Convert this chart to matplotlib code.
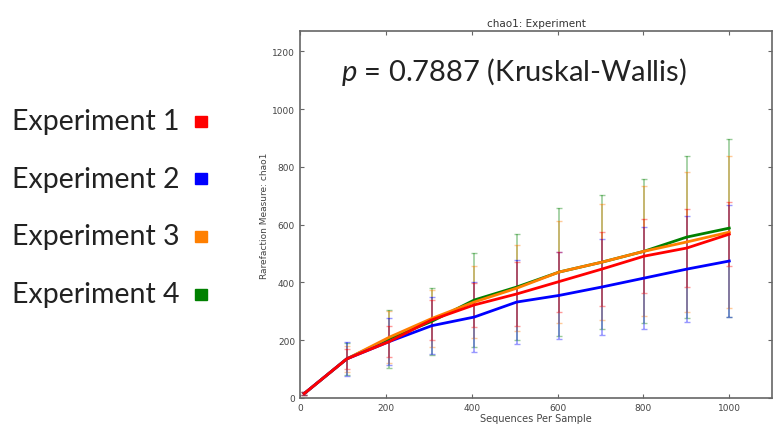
"""
plot.py — chao1 rarefaction curves per experiment with Kruskal-Wallis p-value.
"""

import matplotlib
matplotlib.use("Agg")
import matplotlib.pyplot as plt
import numpy as np

plt.rcParams["mathtext.fontset"] = "custom"
plt.rcParams["mathtext.it"] = "Lato:italic"
plt.rcParams["mathtext.rm"] = "Lato"

# rarefaction depths
depths = [10, 109, 208, 307, 406, 505, 604, 703, 802, 901, 1000]

# mean chao1 per experiment
exp1_mean = [15, 135, 195, 270, 322, 360, 403, 446, 491, 519, 567]
exp2_mean = [15, 135, 195, 250, 280, 332, 355, 384, 415, 446, 474]
exp3_mean = [15, 135, 210, 275, 332, 380, 436, 470, 508, 540, 574]
exp4_mean = [15, 135, 205, 265, 339, 384, 436, 470, 508, 557, 588]

# error (std) per experiment
exp1_err = [4, 35, 55, 70, 76, 110, 104, 128, 129, 135, 111]
exp2_err = [4, 60, 82, 99, 121, 145, 152, 165, 176, 183, 194]
exp3_err = [4, 45, 90, 100, 125, 150, 176, 200, 226, 242, 263]
exp4_err = [4, 55, 100, 115, 163, 183, 221, 232, 250, 280, 308]

labels = ["Experiment 1", "Experiment 2", "Experiment 3", "Experiment 4"]
colors = ["#ff0000", "#0000ff", "#ff7f00", "#008000"]
means = [exp1_mean, exp2_mean, exp3_mean, exp4_mean]
errs = [exp1_err, exp2_err, exp3_err, exp4_err]

fig = plt.figure(figsize=(7.73, 4.35), dpi=100)
ax = fig.add_axes([0.388, 0.083, 0.611, 0.843])

# draw back to front so Experiment 1 ends on top
for i in [3, 2, 1, 0]:
    ax.errorbar(depths, means[i], yerr=errs[i], color=colors[i], alpha=0.4,
                linewidth=0, elinewidth=1.2, capsize=2.5, capthick=1.0)
for i in [3, 2, 1, 0]:
    ax.plot(depths, means[i], color=colors[i], linewidth=2)

ax.set_xlim(0, 1100)
ax.set_ylim(0, 1270)
ax.set_xticks([0, 200, 400, 600, 800, 1000])
ax.set_yticks([0, 200, 400, 600, 800, 1000, 1200])
ax.tick_params(direction="in", top=True, right=True, labelsize=6.5,
               labelcolor="#444444", color="#666666", length=3)
for sp in ax.spines.values():
    sp.set_color("#666666")
    sp.set_linewidth(1.2)

ax.set_title("chao1: Experiment", fontsize=7.5, color="#333333", pad=4)
ax.set_xlabel("Sequences Per Sample", fontsize=7, color="#444444", labelpad=1)
ax.set_ylabel("Rarefaction Measure: chao1", fontsize=6.5, color="#444444", labelpad=2)

ax.text(0.087, 0.935, r"$p$ = 0.7887 (Kruskal-Wallis)", transform=ax.transAxes,
        fontsize=21, family="Lato", color="#222222", va="top", ha="left")

# hand-made legend on the left
legend_y = [122, 180, 237, 295]
for lab, col, y in zip(labels, colors, legend_y):
    fy = 1 - y / 435
    fig.text(12 / 773, fy, lab, fontsize=20.5, family="Lato", color="#222222",
             va="center", ha="left")
    fig.patches.append(plt.Rectangle((195 / 773, fy - 5.5 / 435), 12 / 773, 11 / 435,
                                     transform=fig.transFigure, color=col))

fig.savefig("out.png", dpi=100)
plt.close(fig)
